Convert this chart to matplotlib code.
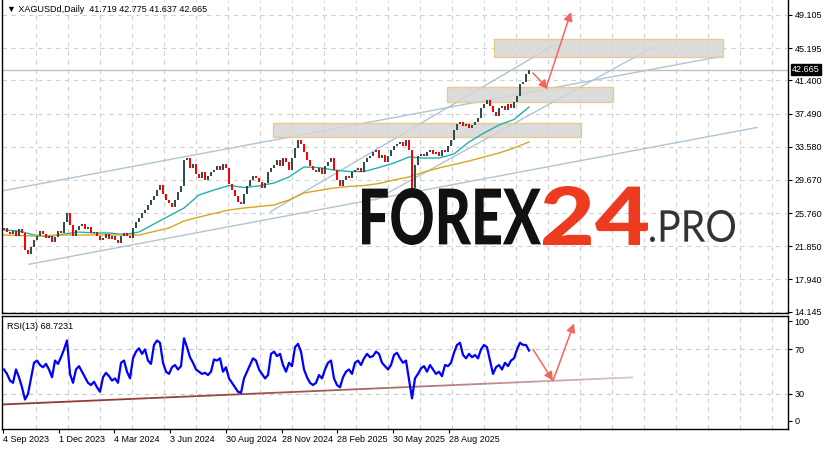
import numpy as np
import matplotlib
matplotlib.use("Agg")
import matplotlib.pyplot as plt
from matplotlib.patches import Rectangle, PathPatch
from matplotlib.textpath import TextPath
from matplotlib.font_manager import FontProperties
from matplotlib.transforms import Affine2D
from matplotlib.collections import LineCollection

close = [24.01, 23.53, 23.30, 23.65, 23.06, 23.89, 23.42, 21.41, 20.94, 21.77,
         22.59, 23.06, 23.65, 23.30, 22.83, 23.06, 22.36, 22.95, 23.65, 23.42,
         24.71, 25.77, 24.36, 23.06, 23.77, 24.24, 24.48, 23.89, 24.12, 23.42,
         23.53, 23.06, 22.59, 22.83, 23.30, 22.71, 23.06, 22.59, 22.24, 23.06,
         23.42, 23.06, 22.83, 24.01, 24.71, 25.18, 25.77, 26.13, 26.72, 27.31,
         27.78, 28.48, 29.07, 28.01, 27.31, 26.95, 26.48, 27.31, 28.25, 28.96,
         32.02, 32.25, 31.08, 31.55, 30.37, 29.90, 30.60, 29.66, 30.13, 30.60,
         30.84, 31.31, 30.84, 31.55, 31.08, 29.19, 28.48, 27.78, 27.07, 26.83,
         28.01, 28.96, 29.66, 30.13, 29.90, 29.43, 28.72, 29.31, 30.60, 31.08,
         31.43, 32.02, 31.31, 32.25, 31.78, 30.84, 32.25, 33.43, 34.38, 33.90,
         32.96, 32.02, 31.31, 30.84, 30.60, 31.08, 30.37, 31.31, 31.78, 32.25,
         30.84, 29.66, 28.96, 29.66, 30.13, 29.90, 30.60, 30.84, 31.08, 30.60,
         31.78, 32.25, 32.49, 32.96, 33.20, 32.25, 32.61, 31.78, 32.49, 33.20,
         33.67, 33.90, 34.14, 33.67, 34.38, 33.20, 28.70, 31.43, 32.49, 32.73,
         32.49, 32.96, 33.20, 32.73, 32.96, 32.49, 33.20, 32.96, 33.67, 34.38,
         35.55, 36.26, 36.50, 36.02, 36.26, 35.79, 36.14, 36.50, 36.97, 38.15,
         38.63, 39.09, 38.38, 37.67, 37.20, 38.15, 38.38, 37.91, 38.63, 38.15,
         38.85, 39.56, 40.97, 41.21, 42.15, 42.665]
first_open = 23.80

ma_fast = [23.77, 23.65, 23.18, 23.00, 23.30, 23.53, 23.42, 23.42, 23.24, 23.53,
           24.48, 25.42, 26.36, 27.90, 28.48, 29.01, 28.78, 28.96, 29.31, 30.02,
           31.19, 31.13, 30.84, 30.66, 30.66, 31.13, 31.66, 32.37, 32.25, 32.25,
           32.73, 34.14, 35.20, 36.14, 36.79, 38.26]
ma_slow = [23.18, 23.12, 23.06, 23.12, 23.18, 23.18, 23.18, 23.18, 23.18, 23.18,
           23.59, 24.01, 24.83, 25.30, 25.71, 26.13, 26.36, 26.54, 26.72, 27.31,
           28.13, 28.43, 28.72, 28.90, 29.01, 29.25, 29.66, 30.02, 30.60, 31.08,
           31.49, 31.90, 32.37, 32.84, 33.43, 34.14]

rsi = [52, 48, 42, 40, 52, 45, 36, 25, 30, 44, 58, 60, 56, 54, 57, 52, 45, 60, 57, 63,
       70, 78, 48, 40, 52, 55, 50, 45, 40, 38, 41, 36, 32, 45, 49, 46, 42, 44, 40, 58,
       60, 50, 44, 62, 68, 71, 66, 70, 60, 57, 74, 78, 76, 58, 50, 48, 54, 56, 52, 55,
       80, 72, 63, 58, 52, 50, 48, 49, 47, 50, 61, 60, 62, 50, 54, 44, 40, 36, 32, 31,
       44, 50, 56, 62, 60, 52, 48, 44, 47, 66, 68, 64, 66, 56, 50, 58, 55, 72, 75, 68,
       52, 45, 40, 38, 40, 47, 44, 52, 58, 60, 44, 38, 36, 45, 50, 52, 48, 58, 60, 56,
       62, 66, 63, 64, 68, 66, 58, 55, 52, 56, 65, 67, 62, 58, 60, 43, 26, 44, 48, 53,
       55, 50, 56, 52, 48, 50, 46, 56, 55, 58, 67, 74, 76, 65, 62, 66, 63, 65, 62, 70,
       74, 72, 60, 48, 54, 56, 52, 58, 55, 60, 62, 70, 76, 74, 74, 69]

price_ticks = [49.105, 45.195, 41.400, 37.490, 33.580, 29.670, 25.760, 21.850, 17.940, 14.145]
date_labels = ["4 Sep 2023", "1 Dec 2023", "4 Mar 2024", "3 Jun 2024", "30 Aug 2024",
               "28 Nov 2024", "28 Feb 2025", "30 May 2025", "28 Aug 2025"]
date_pos = [2.7, 58.7, 114.3, 170, 226, 281.7, 337.3, 393.3, 449]

# drawn analysis objects (x in bar units, y in price)
channel_lines = [((3, 28.40), (720, 44.20)), ((29, 19.73), (757, 35.85)),
                 ((270, 25.89), (555, 45.63)), ((375, 27.31), (655, 45.45))]
zones = [(273, 581, 34.69, 36.41), (447, 613, 38.82, 40.59), (494, 723, 44.16, 46.28)]
price_arrows = [((533, 42.27), (548, 40.39)), ((546, 40.50), (571, 49.46))]
rsi_arrows = [((533, 70), (553, 41.8)), ((553, 41.8), (574, 93.4))]
rsi_trend = ((3, 20.6), (633, 44.9))

W, H = 829, 450
plt.rcParams['font.family'] = ['Liberation Sans', 'DejaVu Sans']
fig = plt.figure(figsize=(W / 100, H / 100), dpi=100)


def box(l, t, r, b):
    return [l / W, 1 - b / H, (r - l) / W, (b - t) / H]


ax = fig.add_axes(box(2.3, 0, 788.3, 313))
ax2 = fig.add_axes(box(2.3, 316, 788.3, 428.5), sharex=ax)

x = np.linspace(4, 529, len(close))
c = np.array(close)
o = np.concatenate([[first_open], c[:-1]])
up = c >= o
col = np.where(up, '#2f4f4f', '#ff0000')
ax.bar(x, c - o, bottom=o, width=2.4, color=col, linewidth=0, zorder=3)

xm = np.linspace(4, 529, len(ma_fast))
ax.plot(xm, ma_fast, color='#20b2aa', lw=1.0, zorder=2)
ax.plot(xm, ma_slow, color='#daa520', lw=1.0, zorder=2)

for (x0, y0), (x1, y1) in channel_lines:
    ax.plot([x0, x1], [y0, y1], color='#b0c4d4', lw=1.0, zorder=1.5)

for l, r, lo, hi in zones:
    ax.add_patch(Rectangle((l, lo), r - l, hi - lo, facecolor='#d6d6d6', alpha=0.85,
                           edgecolor='#e8c77a', lw=1.0, zorder=1.8))

for s, e in price_arrows:
    ax.annotate('', xy=e, xytext=s,
                arrowprops=dict(arrowstyle='-|>', color='#f4665c', lw=1.1,
                                mutation_scale=13, shrinkA=0, shrinkB=0), zorder=5)

ax.axhline(42.665, color='#c0c0c0', lw=1.0, zorder=1)

ax.set_xlim(2.3, 788.3)
ax.set_ylim(13.99, 50.87)
ax.yaxis.tick_right()
ax.set_yticks(price_ticks)
ax.set_yticklabels(["%.3f" % v for v in price_ticks])
ax.tick_params(axis='y', labelsize=6.5, length=3, width=0.8, pad=1.5)
ax.tick_params(axis='x', bottom=False, labelbottom=False)
for v in price_ticks:
    ax.axhline(v, color='#d0d0d0', lw=0.8, ls=(0, (4, 4)), zorder=0)
ax.text(792, 42.665, "42.665", transform=ax.transData, fontsize=6.5, color='white',
        va='center', ha='left', clip_on=False,
        bbox=dict(boxstyle='square,pad=0.15', facecolor='black', edgecolor='black'))
ax.text(0.006, 0.985, "\u25bc XAGUSDd,Daily  41.719 42.775 41.637 42.665",
        transform=ax.transAxes, fontsize=6.5, va='top', ha='left',
        family=['Liberation Sans', 'DejaVu Sans'])
ax.spines['top'].set_visible(False)

# RSI panel
xr = np.linspace(4, 529, len(rsi))
ax2.plot(xr, rsi, color='#0000ff', lw=1.6, zorder=3)
(a0, b0), (a1, b1) = rsi_trend
tx = np.linspace(a0, a1, 40)
ty = np.linspace(b0, b1, 40)
segs = np.stack([np.column_stack([tx[:-1], ty[:-1]]), np.column_stack([tx[1:], ty[1:]])], axis=1)
fade = np.linspace(0, 1, len(segs))
seg_cols = [(0.55 + 0.3 * f, 0.22 + 0.55 * f, 0.22 + 0.55 * f) for f in fade ** 2]
ax2.add_collection(LineCollection(segs, colors=seg_cols, linewidths=1.3, zorder=2))
for s, e in rsi_arrows:
    ax2.annotate('', xy=e, xytext=s,
                 arrowprops=dict(arrowstyle='-|>', color='#f4665c', lw=1.1,
                                 mutation_scale=13, shrinkA=0, shrinkB=0), zorder=5)
ax2.set_ylim(-1, 100)
ax2.yaxis.tick_right()
ax2.set_yticks([6, 30, 70, 95.5])
ax2.set_yticklabels(['0', '30', '70', '100'])
ax2.tick_params(axis='y', labelsize=6.5, length=3, width=0.8, pad=1.5)
for v in [30, 70]:
    ax2.axhline(v, color='#c8c8c8', lw=0.8, ls=(0, (4, 4)), zorder=0)
ax2.text(0.006, 0.95, "RSI(13) 68.7231", transform=ax2.transAxes, fontsize=6.5,
         va='top', ha='left')

ax2.set_xticks(date_pos)
ax2.set_xticklabels(date_labels, ha='left')
ax2.tick_params(axis='x', labelsize=6.5, length=3, width=0.8, pad=1.5)

for a in (ax, ax2):
    for gx in np.arange(35.7, 788, 32):
        a.axvline(gx, color='#d0d0d0', lw=0.8, ls=(0, (4, 4)), zorder=0)
    for sp in ['left', 'right', 'bottom', 'top']:
        a.spines[sp].set_color('black')
        a.spines[sp].set_linewidth(1.0)


def fit_text(s, l, t, r, b, color, family, weight):
    tp = TextPath((0, 0), s, size=100, prop=FontProperties(family=family, weight=weight))
    ext = tp.get_extents()
    tr = (Affine2D().translate(-ext.x0, -ext.y0)
          .scale((r - l) / ext.width / W, (b - t) / ext.height / H)
          .translate(l / W, 1 - b / H))
    fig.add_artist(PathPatch(tr.transform_path(tp), facecolor=color, lw=0,
                             transform=fig.transFigure, zorder=10))


fit_text("FOREX", 362, 188, 541, 245, '#111111', 'Lato', 'black')
fit_text("24", 543, 186, 648, 245, '#ee3a1f', 'Lato', 'black')
fit_text(".PRO", 650, 210, 735, 242, '#333333', 'Lato', 'normal')

fig.savefig("out.png", dpi=100)
